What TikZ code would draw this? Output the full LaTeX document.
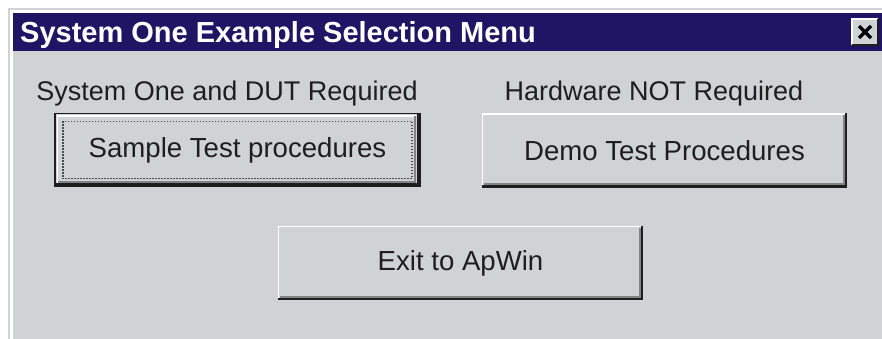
\documentclass[tikz,border=0pt]{standalone}
\usepackage{fontspec}
\setmainfont{Liberation Sans}
\usepackage{xcolor}

\definecolor{face}{RGB}{208,211,211}
\definecolor{titlebar}{RGB}{32,20,100}
\definecolor{btnshade}{RGB}{130,132,132}
\definecolor{btndark}{RGB}{30,30,30}

\tikzset{
  label/.style={text=btndark, inner sep=0pt, font=\fontsize{27}{30}\selectfont},
  btn/.style={fill=face, inner sep=0pt, text=btndark, minimum width=365pt, minimum height=74pt, font=\fontsize{27.6}{30}\selectfont}
}

\begin{document}
\begin{tikzpicture}[x=1pt,y=-1pt]
        \useasboundingbox (0,0) rectangle (882,339);
        % window
        \fill[white] (0,0) rectangle (882,339);
        \fill[face] (8,8) rectangle (882,339);
        \draw[white, line width=2.5pt] (11.5,339) -- (11.5,11.5) -- (882,11.5);
        % title bar
        \fill[titlebar] (13,13) rectangle (882,51);
        \node[anchor=base west, inner sep=0pt, text=white, font=\bfseries\fontsize{29}{32}\selectfont] (title) at (20,43) {System One Example Selection Menu};
        % close box
        \node[fill=face, minimum width=26pt, minimum height=26pt, inner sep=0pt] (close) at (865,32) {};
        \draw[white, line width=1.5pt] (close.south west) -- (close.north west) -- (close.north east);
        \draw[btndark, line width=1.5pt] (close.south west) -- (close.south east) -- (close.north east);
        \draw[black, line width=3.5pt] ([shift={(-6,-6)}]close.center) -- ([shift={(6,6)}]close.center);
        \draw[black, line width=3.5pt] ([shift={(-6,6)}]close.center) -- ([shift={(6,-6)}]close.center);
        % labels
        \node[label, anchor=base] (reqdut) at (227,101) {System One and DUT Required};
        \node[label, anchor=base] (reqnone) at (654,101) {Hardware NOT Required};
        % buttons
        \node[btn, minimum width=365pt, minimum height=73pt] (sample) at (237.5,150) {Sample Test procedures};
        \node[btn] (demo) at (664.5,150.5) {Demo Test Procedures};
        \node[btn] (exit) at (460.5,263) {Exit to ApWin};
        % default button frame
        \draw[btndark, line width=1.5pt] (sample.south west) -- (sample.north west) -- (sample.north east);
        \draw[btndark, line width=4pt] ([shift={(0,-1.5)}]sample.south west) -- ([shift={(-1.5,-1.5)}]sample.south east) -- ([shift={(-1.5,0)}]sample.north east);
        \draw[white, line width=1.5pt] ([shift={(2.5,-4)}]sample.south west) -- ([shift={(2.5,2.5)}]sample.north west) -- ([shift={(-4,2.5)}]sample.north east);
        \draw[btnshade, line width=2pt] ([shift={(3,-5)}]sample.south west) -- ([shift={(-5,-5)}]sample.south east) -- ([shift={(-5,3)}]sample.north east);
        \draw[btndark!80, line width=1.5pt, dash pattern=on 1.5pt off 1.5pt] ([shift={(8,8)}]sample.north west) rectangle ([shift={(-8,-8)}]sample.south east);
        % raised buttons
        \foreach \b in {demo,exit} {
          \draw[white, line width=1.5pt] ([shift={(0.75,0)}]\b.south west) -- ([shift={(0.75,0.75)}]\b.north west) -- ([shift={(0,0.75)}]\b.north east);
          \draw[btndark, line width=2.5pt] ([shift={(0,-1.25)}]\b.south west) -- ([shift={(-1.25,-1.25)}]\b.south east) -- ([shift={(-1.25,0)}]\b.north east);
          \draw[btnshade, line width=2pt] ([shift={(2,-3.5)}]\b.south west) -- ([shift={(-3.5,-3.5)}]\b.south east) -- ([shift={(-3.5,2)}]\b.north east);
        }
\end{tikzpicture}
\end{document}
